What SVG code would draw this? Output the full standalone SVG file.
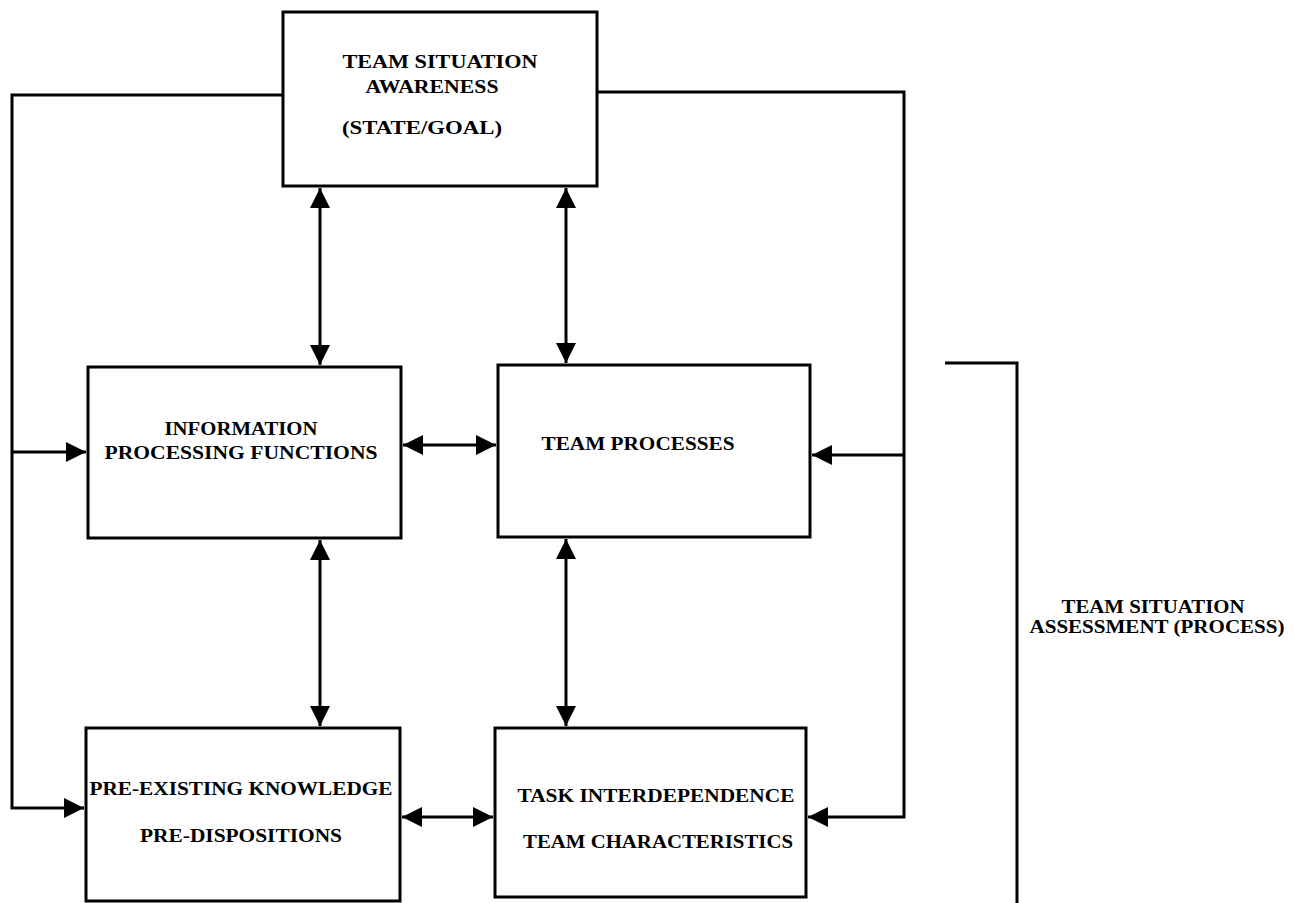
<svg xmlns="http://www.w3.org/2000/svg" width="1294" height="903" viewBox="0 0 1294 903">
<style>
.box{fill:#fff;stroke:#000;stroke-width:3}
.ln{fill:none;stroke:#000;stroke-width:3}
.t{font-family:"Liberation Serif","DejaVu Serif",serif;font-weight:bold;font-size:19px;fill:#000}
</style>
<defs>
<marker id="ah" viewBox="0 0 20 20" refX="20" refY="10" markerWidth="20" markerHeight="20" markerUnits="userSpaceOnUse" orient="auto-start-reverse">
<path d="M0,0 L20,10 L0,20 Z" fill="#000"/>
</marker>
</defs>
<rect width="1294" height="903" fill="#fff"/>
<g id="connectors">
<polyline class="ln" points="283,95 12,95 12,808 84,808" marker-end="url(#ah)"/>
<line class="ln" x1="12" y1="452" x2="86" y2="452" marker-end="url(#ah)"/>
<polyline class="ln" points="597,92 904,92 904,817 808,817" marker-end="url(#ah)"/>
<line class="ln" x1="904" y1="455" x2="812" y2="455" marker-end="url(#ah)"/>
<line class="ln" x1="320" y1="188" x2="320" y2="365" marker-start="url(#ah)" marker-end="url(#ah)"/>
<line class="ln" x1="566" y1="188" x2="566" y2="363" marker-start="url(#ah)" marker-end="url(#ah)"/>
<line class="ln" x1="320" y1="540" x2="320" y2="726" marker-start="url(#ah)" marker-end="url(#ah)"/>
<line class="ln" x1="566" y1="539" x2="566" y2="726" marker-start="url(#ah)" marker-end="url(#ah)"/>
<line class="ln" x1="403" y1="445" x2="496" y2="445" marker-start="url(#ah)" marker-end="url(#ah)"/>
<line class="ln" x1="402" y1="817" x2="493" y2="817" marker-start="url(#ah)" marker-end="url(#ah)"/>
<polyline class="ln" points="945,363 1017,363 1017,903"/>
</g>
<g id="tsa">
<rect class="box" x="283" y="12" width="314" height="174"/>
<text class="t" x="440" y="68" text-anchor="middle" textLength="195" lengthAdjust="spacingAndGlyphs">TEAM SITUATION</text>
<text class="t" x="432" y="93" text-anchor="middle" textLength="133" lengthAdjust="spacingAndGlyphs">AWARENESS</text>
<text class="t" x="422" y="134" text-anchor="middle" textLength="160" lengthAdjust="spacingAndGlyphs">(STATE/GOAL)</text>
</g>
<g id="ipf">
<rect class="box" x="88" y="367" width="313" height="171"/>
<text class="t" x="241" y="435" text-anchor="middle" textLength="153" lengthAdjust="spacingAndGlyphs">INFORMATION</text>
<text class="t" x="241" y="459" text-anchor="middle" textLength="273" lengthAdjust="spacingAndGlyphs">PROCESSING FUNCTIONS</text>
</g>
<g id="tp">
<rect class="box" x="498" y="365" width="312" height="172"/>
<text class="t" x="638" y="450" text-anchor="middle" textLength="193" lengthAdjust="spacingAndGlyphs">TEAM PROCESSES</text>
</g>
<g id="pek">
<rect class="box" x="86" y="728" width="314" height="173"/>
<text class="t" x="241" y="795" text-anchor="middle" textLength="303" lengthAdjust="spacingAndGlyphs">PRE-EXISTING KNOWLEDGE</text>
<text class="t" x="241" y="842" text-anchor="middle" textLength="202" lengthAdjust="spacingAndGlyphs">PRE-DISPOSITIONS</text>
</g>
<g id="tic">
<rect class="box" x="495" y="728" width="311" height="169"/>
<text class="t" x="656" y="802" text-anchor="middle" textLength="277" lengthAdjust="spacingAndGlyphs">TASK INTERDEPENDENCE</text>
<text class="t" x="658" y="848" text-anchor="middle" textLength="270" lengthAdjust="spacingAndGlyphs">TEAM CHARACTERISTICS</text>
</g>
<g id="tsap">
<text class="t" x="1153" y="613" text-anchor="middle" textLength="183" lengthAdjust="spacingAndGlyphs">TEAM SITUATION</text>
<text class="t" x="1157" y="633" text-anchor="middle" textLength="255" lengthAdjust="spacingAndGlyphs">ASSESSMENT (PROCESS)</text>
</g>
</svg>
